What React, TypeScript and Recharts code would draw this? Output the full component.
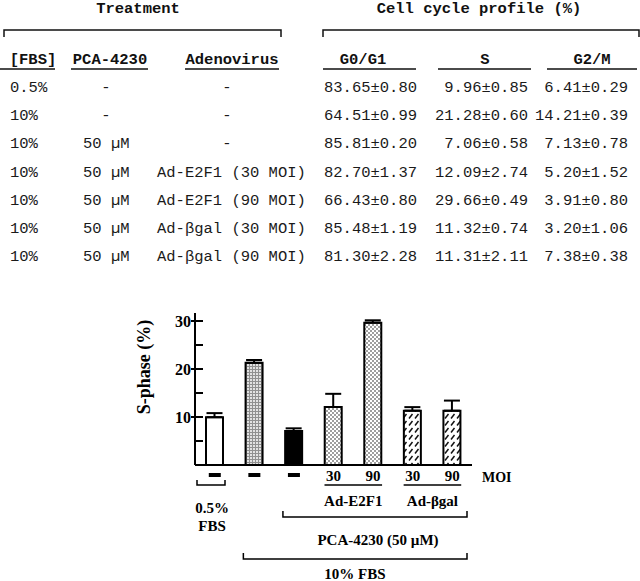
import React from 'react';
import { BarChart, Bar, XAxis, YAxis, ErrorBar, Cell } from 'recharts';

// ── data ────────────────────────────────────────────────────────────
const fbsCol = ['0.5%', '10%', '10%', '10%', '10%', '10%', '10%'];
const pcaCol = ['-', '-', '50 µM', '50 µM', '50 µM', '50 µM', '50 µM'];
const adenoCol = ['-', '-', '-', 'Ad-E2F1 (30 MOI)', 'Ad-E2F1 (90 MOI)', 'Ad-βgal (30 MOI)', 'Ad-βgal (90 MOI)'];
const g0g1 = [83.65, 64.51, 85.81, 82.7, 66.43, 85.48, 81.3];
const g0g1Err = [0.8, 0.99, 0.2, 1.37, 0.8, 1.19, 2.28];
const sPhase = [9.96, 21.28, 7.06, 12.09, 29.66, 11.32, 11.31];
const sErr = [0.85, 0.6, 0.58, 2.74, 0.49, 0.74, 2.11];
const g2m = [6.41, 14.21, 7.13, 5.2, 3.91, 3.2, 7.38];
const g2mErr = [0.29, 0.39, 0.78, 1.52, 0.8, 1.06, 0.38];
const moiLabels = ['-', '-', '-', '30', '90', '30', '90'];
const barFills = ['#fff', 'url(#grid)', '#000', 'url(#dots)', 'url(#dots)', 'url(#hatch)', 'url(#hatch)'];
const yTicks = [0, 5, 10, 15, 20, 25, 30];
const yLabelled = [10, 20, 30];

const chartData = sPhase.map((v, i) => ({
  label: moiLabels[i],
  s: v,
  err: [0, sErr[i]],
}));

const fmt = (v: number, e: number) => `${v.toFixed(2)}±${e.toFixed(2)}`;

// ── layout ──────────────────────────────────────────────────────────
const W = 640;
const H = 581;
const PLOT_L = 195;
const PLOT_R = 472;
const BAND = (PLOT_R - PLOT_L) / sPhase.length;
const cx = (i: number) => PLOT_L + BAND * (i + 0.5);

const serif = '"Liberation Serif", "Times New Roman", serif';
const mono = '"Liberation Mono", "Courier New", monospace';

const YTick = (props: any) => {
  const { x, y, payload } = props;
  const v = payload.value;
  if (v === 0) return null;
  const major = yLabelled.includes(v);
  return (
    <g>
      <line x1={major ? x - 4 : x} x2={x + 8} y1={y} y2={y} stroke="#000" strokeWidth={2} />
      {major && (
        <text x={x - 4} y={y + 5.5} textAnchor="end" fontFamily={serif} fontWeight="bold" fontSize={16} fill="#000">
          {v}
        </text>
      )}
    </g>
  );
};

const XTick = (props: any) => {
  const { x, y, payload } = props;
  if (payload.value === '-') {
    return <rect x={x - 6} y={y + 8} width={12} height={4} fill="#000" />;
  }
  return (
    <text x={x} y={y + 16} textAnchor="middle" fontFamily={serif} fontWeight="bold" fontSize={15} fill="#000">
      {payload.value}
    </text>
  );
};

// ── table overlay ───────────────────────────────────────────────────
const rowY = (i: number) => 92 + 28.2 * i;

const Table = () => (
  <g fontFamily={mono} fontSize={15.5} fill="#1a1a1a">
    <g fontWeight="bold" fill="#111">
      <text x={138} y={13} textAnchor="middle">Treatment</text>
      <text x={479} y={13} textAnchor="middle">Cell cycle profile (%)</text>
      <text x={33} y={64} textAnchor="middle">[FBS]</text>
      <text x={110} y={64} textAnchor="middle">PCA-4230</text>
      <text x={232} y={64} textAnchor="middle">Adenovirus</text>
      <text x={363} y={64} textAnchor="middle">G0/G1</text>
      <text x={485} y={64} textAnchor="middle">S</text>
      <text x={592} y={64} textAnchor="middle">G2/M</text>
    </g>
    <g stroke="#111" strokeWidth={1.5} fill="none">
      <path d="M4 37V30H281V37" />
      <path d="M323 37V30H639V37" />
      <path d="M0 69H55M71 69H148M185 69H279M323 69H416M438 69H531M547 69H637" />
    </g>
    {fbsCol.map((f, i) => (
      <g key={i}>
        <text x={10} y={rowY(i)}>{f}</text>
        {pcaCol[i] === '-' ? (
          <text x={106} y={rowY(i)} textAnchor="middle">-</text>
        ) : (
          <text x={83} y={rowY(i)}>{pcaCol[i]}</text>
        )}
        {adenoCol[i] === '-' ? (
          <text x={227} y={rowY(i)} textAnchor="middle">-</text>
        ) : (
          <text x={157} y={rowY(i)}>{adenoCol[i]}</text>
        )}
        <text x={417} y={rowY(i)} textAnchor="end">{fmt(g0g1[i], g0g1Err[i])}</text>
        <text x={528} y={rowY(i)} textAnchor="end">{fmt(sPhase[i], sErr[i])}</text>
        <text x={628} y={rowY(i)} textAnchor="end">{fmt(g2m[i], g2mErr[i])}</text>
      </g>
    ))}
  </g>
);

// ── group annotations under the bars ────────────────────────────────
const Groups = () => (
  <g fontFamily={serif} fontWeight="bold" fontSize={15} fill="#000">
    <text x={482} y={482} fontSize={14}>MOI</text>
    <g stroke="#000" strokeWidth={1.5} fill="none">
      <path d={`M${cx(3) - 9} 485H${cx(4) + 9}`} />
      <path d={`M${cx(5) - 9} 485H${cx(6) + 9}`} />
      <path d="M197 480V485H225V480" />
      <path d={`M${cx(2) - 11} 511V517H${PLOT_R - 5}V511`} />
      <path d={`M${cx(1) - 11} 553V559H${PLOT_R - 5}V553`} />
    </g>
    <text x={(cx(3) + cx(4)) / 2} y={506} textAnchor="middle">Ad-E2F1</text>
    <text x={(cx(5) + cx(6)) / 2} y={506} textAnchor="middle">Ad-βgal</text>
    <text x={212} y={513} textAnchor="middle">0.5%</text>
    <text x={212} y={531} textAnchor="middle">FBS</text>
    <text x={378} y={545} textAnchor="middle">PCA-4230 (50 µM)</text>
    <text x={355} y={579} textAnchor="middle">10% FBS</text>
    <text x={150} y={367} textAnchor="middle" fontSize={18} transform="rotate(-90 150 367)">
      S-phase (%)
    </text>
  </g>
);

export default function App() {
  return (
    <div style={{ position: 'absolute', left: 0, top: 0, width: W, height: H, background: '#fff' }}>
      <svg width={0} height={0} style={{ position: 'absolute' }}>
        <defs>
          <pattern id="grid" width={3} height={3} patternUnits="userSpaceOnUse">
            <rect width={3} height={3} fill="#e2e2e2" />
            <path d="M0 0.5H3M0.5 0V3" stroke="#909090" strokeWidth={1} />
          </pattern>
          <pattern id="dots" width={4} height={4} patternUnits="userSpaceOnUse">
            <rect width={4} height={4} fill="#fff" />
            <circle cx={1} cy={1} r={0.8} fill="#222" />
            <circle cx={3} cy={3} r={0.8} fill="#222" />
          </pattern>
          <pattern id="hatch" width={6} height={7} patternUnits="userSpaceOnUse">
            <rect width={6} height={7} fill="#fff" />
            <path d="M1 5.5L4.5 1" stroke="#111" strokeWidth={1.5} />
          </pattern>
        </defs>
      </svg>
      <BarChart
        width={W}
        height={H}
        data={chartData}
        margin={{ top: 313, right: W - PLOT_R, left: PLOT_L - 60, bottom: 86 }}
        barSize={17}
      >
        <XAxis
          dataKey="label"
          interval={0}
          height={30}
          tickLine={false}
          tickSize={0}
          tickMargin={0}
          axisLine={{ stroke: '#000', strokeWidth: 2 }}
          tick={<XTick />}
        />
        <YAxis
          width={60}
          domain={[0, 31.67]}
          ticks={yTicks}
          tickLine={false}
          tickSize={0}
          tickMargin={0}
          axisLine={{ stroke: '#000', strokeWidth: 2 }}
          tick={<YTick />}
        />
        <Bar dataKey="s" stroke="#000" strokeWidth={2} isAnimationActive={false}>
          {chartData.map((_, i) => (
            <Cell key={i} fill={barFills[i]} />
          ))}
          <ErrorBar dataKey="err" width={8} stroke="#000" strokeWidth={2} direction="y" />
        </Bar>
      </BarChart>
      <svg width={W} height={H} style={{ position: 'absolute', left: 0, top: 0, pointerEvents: 'none' }}>
        <Table />
        <Groups />
      </svg>
    </div>
  );
}
